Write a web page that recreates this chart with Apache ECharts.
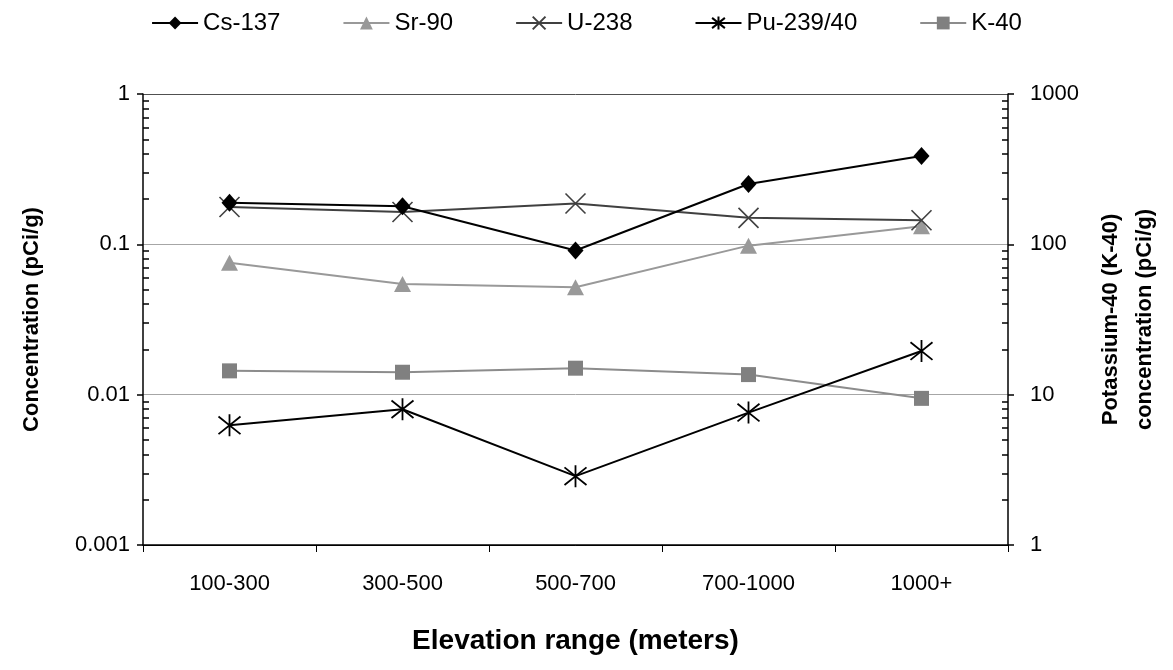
<!DOCTYPE html>
<html>
<head>
<meta charset="utf-8">
<script src="https://cdn.jsdelivr.net/npm/echarts@6/dist/echarts.min.js"></script>
<style>
html,body{margin:0;padding:0;background:#fff;}
#chart{width:1173px;height:670px;}
</style>
</head>
<body>
<div id="chart"></div>
<script>
const categories = ['100-300', '300-500', '500-700', '700-1000', '1000+'];
const cs137 = [0.189, 0.179, 0.091, 0.252, 0.387];
const sr90 = [0.0755, 0.0545, 0.0518, 0.098, 0.132];
const u238 = [0.177, 0.164, 0.187, 0.150, 0.1445];
const pu239 = [0.00625, 0.0080, 0.00287, 0.0076, 0.0195];
const k40 = [14.4, 14.1, 15.0, 13.6, 9.45];
const leftMajor = [0.001, 0.01, 0.1, 1];
const rightMajor = [1, 10, 100, 1000];

function minorTicks(majors) {
  const out = [];
  for (let i = 0; i < majors.length - 1; i++) {
    for (let k = 2; k <= 9; k++) out.push(+(majors[i] * k).toPrecision(3));
  }
  return out;
}

const FONT = 'Liberation Sans, Arial, sans-serif';
const crossPath = 'path://M0,0L10,10M10,0L0,10';
const starPath = 'path://M5,0L5,10M0.5,1L9.5,9M9.5,1L0.5,9';

const chart = echarts.init(document.getElementById('chart'), null, {renderer: 'canvas'});
const option = {
  backgroundColor: '#fff',
  animation: false,
  textStyle: {fontFamily: FONT},
  legend: {
    top: 6,
    left: 'center',
    itemWidth: 46,
    itemHeight: 16,
    itemGap: 62,
    textStyle: {fontSize: 24, color: '#000', fontFamily: FONT},
    data: ['Cs-137', 'Sr-90', 'U-238', 'Pu-239/40', 'K-40']
  },
  grid: {left: 143, right: 165, top: 94, bottom: 125, containLabel: false},
  xAxis: {
    type: 'category',
    data: categories,
    boundaryGap: true,
    name: 'Elevation range (meters)',
    nameLocation: 'middle',
    nameGap: 82,
    nameTextStyle: {fontSize: 28, fontWeight: 'bold', color: '#000', fontFamily: FONT},
    axisLine: {lineStyle: {color: '#000', width: 1.5}},
    axisTick: {show: true, length: 7, lineStyle: {color: '#000'}},
    axisLabel: {fontSize: 22, color: '#000', margin: 28, fontFamily: FONT},
    splitLine: {show: false}
  },
  yAxis: [
    {
      type: 'log', logBase: 10, min: 0.001, max: 1,
      position: 'left',
      name: 'Concentration (pCi/g)',
      nameLocation: 'middle',
      nameGap: 100,
      nameTextStyle: {fontSize: 22, fontWeight: 'bold', color: '#000', fontFamily: FONT},
      axisLine: {show: true, lineStyle: {color: '#000', width: 1.5}},
      axisTick: {show: true, length: 6, lineStyle: {color: '#000', width: 1.5}},
      axisLabel: {fontSize: 22, color: '#000', margin: 13, fontFamily: FONT,
        customValues: leftMajor,
        formatter: v => String(+v.toPrecision(3))},
      splitLine: {show: true, lineStyle: {color: ['#000', '#a6a6a6', '#a6a6a6', '#505050'], width: 1}}
    },
    {
      type: 'log', logBase: 10, min: 1, max: 1000,
      position: 'right',
      name: 'Potassium-40 (K-40)\nconcentration (pCi/g)',
      nameLocation: 'middle',
      nameGap: 86,
      nameRotate: 90,
      nameTextStyle: {fontSize: 22, fontWeight: 'bold', color: '#000', lineHeight: 34, fontFamily: FONT},
      axisLine: {show: true, lineStyle: {color: '#000', width: 1.5}},
      axisTick: {show: true, length: 6, lineStyle: {color: '#000', width: 1.5}},
      axisLabel: {fontSize: 22, color: '#000', margin: 22, fontFamily: FONT,
        formatter: v => String(+v.toPrecision(4))},
      splitLine: {show: false}
    },
    {
      type: 'log', logBase: 10, min: 0.001, max: 1,
      position: 'left',
      axisLine: {show: false},
      axisTick: {show: true, inside: true, length: 6, customValues: minorTicks(leftMajor), lineStyle: {color: '#000', width: 1.5}},
      axisLabel: {show: false},
      splitLine: {show: false}
    },
    {
      type: 'log', logBase: 10, min: 1, max: 1000,
      position: 'right',
      axisLine: {show: false},
      axisTick: {show: true, inside: true, length: 6, customValues: minorTicks(rightMajor), lineStyle: {color: '#000', width: 1.5}},
      axisLabel: {show: false},
      splitLine: {show: false}
    }
  ],
  series: [
    {
      name: 'Cs-137', type: 'line', yAxisIndex: 0, data: cs137,
      symbol: 'diamond', symbolSize: [16, 18],
      lineStyle: {color: '#000', width: 2}, itemStyle: {color: '#000'}, z: 5
    },
    {
      name: 'Sr-90', type: 'line', yAxisIndex: 0, data: sr90,
      symbol: 'triangle', symbolSize: [17, 16],
      lineStyle: {color: '#999', width: 2}, itemStyle: {color: '#999'}, z: 3
    },
    {
      name: 'U-238', type: 'line', yAxisIndex: 0, data: u238,
      symbol: crossPath, symbolSize: 20,
      lineStyle: {color: '#404040', width: 2},
      itemStyle: {color: 'rgba(0,0,0,0)', borderColor: '#404040', borderWidth: 1.6}, z: 4
    },
    {
      name: 'Pu-239/40', type: 'line', yAxisIndex: 0, data: pu239,
      symbol: starPath, symbolSize: 22,
      lineStyle: {color: '#000', width: 2},
      itemStyle: {color: 'rgba(0,0,0,0)', borderColor: '#000', borderWidth: 1.8}, z: 4
    },
    {
      name: 'K-40', type: 'line', yAxisIndex: 1, data: k40,
      symbol: 'rect', symbolSize: 15,
      lineStyle: {color: '#8c8c8c', width: 2}, itemStyle: {color: '#808080'}, z: 3
    }
  ]
};
chart.setOption(option);
</script>
</body>
</html>
